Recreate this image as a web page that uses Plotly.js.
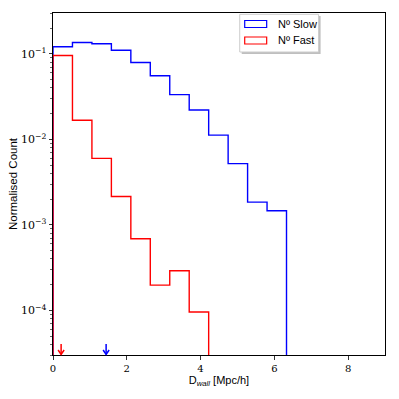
<!DOCTYPE html>
<html>
<head>
<meta charset="utf-8">
<script src="https://cdn.plot.ly/plotly-3.0.1.min.js"></script>
<style>html,body{margin:0;padding:0;background:#fff;}#chart{width:399px;height:399px;}</style>
</head>
<body>
<div id="chart"></div>
<script>
// ---- data ----
const seriesNames = ['N\u00ba Slow', 'N\u00ba Fast'];
const seriesColors = ['blue', 'red'];
const binWidth = 0.5275;
const slowCounts = [0.121, 0.1355, 0.131, 0.110, 0.079, 0.0553, 0.0333, 0.022, 0.0112, 0.0052, 0.00184, 0.00146];
const fastCounts = [0.0955, 0.0167, 0.00598, 0.00214, 0.000686, 0.000197, 0.00029, 0.0000955];
const arrowX = [0.22, 1.44];          // fast, slow markers
const arrowColors = ['red', 'blue'];
const xTicks = [0, 2, 4, 6, 8];
const yTickVals = [1e-4, 1e-3, 1e-2, 1e-1];
const yTickText = ['10<sup>\u22124</sup>', '10<sup>\u22123</sup>', '10<sup>\u22122</sup>', '10<sup>\u22121</sup>'];
const floorVal = 1e-12;

function stepTrace(counts, color, name) {
  const xs = [0], ys = [floorVal];
  for (let i = 0; i < counts.length; i++) {
    xs.push(i * binWidth); ys.push(counts[i]);
    xs.push((i + 1) * binWidth); ys.push(counts[i]);
  }
  xs.push(counts.length * binWidth); ys.push(floorVal);
  return {x: xs, y: ys, type: 'scatter', mode: 'lines', name: name,
    line: {color: color, width: 1.4, shape: 'linear'}, showlegend: false, hoverinfo: 'skip'};
}

const traces = [
  stepTrace(slowCounts, seriesColors[0], seriesNames[0]),
  stepTrace(fastCounts, seriesColors[1], seriesNames[1])
];

const L = 53, R = 385.5, T = 13, B = 355;
const W = R - L, H = B - T;
const px = v => (v - L) / W;
const py = v => (B - v) / H;

const minorVals = [];
[1e-5, 1e-4, 1e-3, 1e-2, 1e-1].forEach(d => { for (let k = 2; k <= 9; k++) minorVals.push(k * d); });

const shapes = [
  // legend shadow
  {type: 'rect', xref: 'paper', yref: 'paper', x0: px(242), x1: px(321), y0: py(54), y1: py(16),
   line: {width: 0}, fillcolor: 'rgba(0,0,0,0.25)', layer: 'above'},
  // legend box
  {type: 'rect', xref: 'paper', yref: 'paper', x0: px(240), x1: px(319), y0: py(52), y1: py(14.3),
   line: {width: 1, color: '#cccccc'}, fillcolor: 'white', layer: 'above'},
  {type: 'rect', xref: 'paper', yref: 'paper', x0: px(245), x1: px(267), y0: py(27.5), y1: py(20.5),
   line: {width: 1.2, color: seriesColors[0]}, fillcolor: 'rgba(0,0,0,0)', layer: 'above'},
  {type: 'rect', xref: 'paper', yref: 'paper', x0: px(245), x1: px(267), y0: py(44), y1: py(37),
   line: {width: 1.2, color: seriesColors[1]}, fillcolor: 'rgba(0,0,0,0)', layer: 'above'}
];
const headHalf = 3 / (W / 9);
arrowX.forEach((xv, i) => {
  shapes.push({type: 'line', xref: 'x', yref: 'paper', x0: xv, x1: xv, y0: py(344), y1: py(354.5),
    line: {color: arrowColors[i], width: 1.5}, layer: 'above'});
  shapes.push({type: 'path', xref: 'x', yref: 'paper',
    path: 'M' + (xv - headHalf) + ',' + py(350) + ' L' + xv + ',' + py(354.5) + ' L' + (xv + headHalf) + ',' + py(350),
    line: {color: arrowColors[i], width: 1.5}, fillcolor: 'rgba(0,0,0,0)', layer: 'above'});
});

const annotations = [
  {xref: 'paper', yref: 'paper', x: px(276), y: py(24), xanchor: 'left', yanchor: 'middle',
   text: seriesNames[0], showarrow: false, font: {family: 'Liberation Sans, Arial, sans-serif', size: 11, color: '#000'}},
  {xref: 'paper', yref: 'paper', x: px(276), y: py(40.5), xanchor: 'left', yanchor: 'middle',
   text: seriesNames[1], showarrow: false, font: {family: 'Liberation Sans, Arial, sans-serif', size: 11, color: '#000'}}
];

const layout = {
  width: 399, height: 399,
  margin: {l: L, r: 399 - R, t: T, b: 399 - B},
  paper_bgcolor: 'white', plot_bgcolor: 'white',
  showlegend: false,
  xaxis: {
    range: [0, 9], tickvals: xTicks, ticktext: xTicks.map(String),
    ticks: 'outside', ticklen: 3.5, tickwidth: 0.8, tickcolor: '#000',
    showline: true, linecolor: '#000', linewidth: 1, mirror: true,
    showgrid: false, zeroline: false,
    tickfont: {family: 'DejaVu Serif, Liberation Serif, serif', size: 10, color: '#000'},
    title: {text: 'D<sub><i>wall</i></sub> [Mpc/h]', standoff: 3,
      font: {family: 'Liberation Sans, Arial, sans-serif', size: 11, color: '#000'}}
  },
  yaxis: {
    type: 'log', range: [Math.log10(3e-5), Math.log10(0.3)],
    tickmode: 'array', tickvals: yTickVals, ticktext: yTickText,
    ticks: 'outside', ticklen: 3.5, tickwidth: 0.8, tickcolor: '#000',
    minor: {ticks: 'outside', ticklen: 2, tickwidth: 0.6, tickcolor: '#000', tickmode: 'array', tickvals: minorVals},
    showline: true, linecolor: '#000', linewidth: 1, mirror: true,
    showgrid: false, zeroline: false,
    tickfont: {family: 'DejaVu Serif, Liberation Serif, serif', size: 11, color: '#000'},
    title: {text: 'Normalised Count', standoff: 0,
      font: {family: 'Liberation Sans, Arial, sans-serif', size: 11.5, color: '#000'}}
  },
  shapes: shapes,
  annotations: annotations
};

Plotly.newPlot('chart', traces, layout, {staticPlot: true, displayModeBar: false});
</script>
</body>
</html>
